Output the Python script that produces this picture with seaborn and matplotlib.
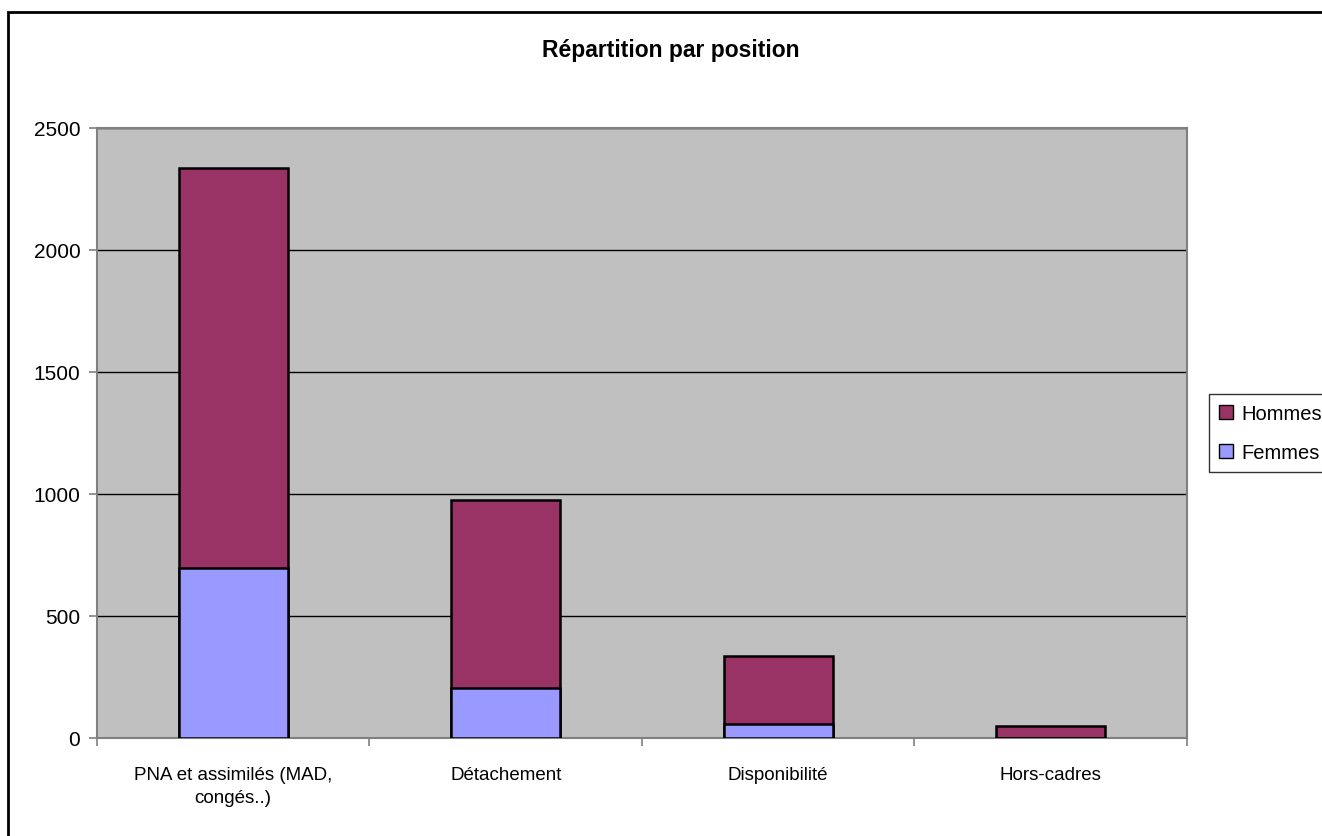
import seaborn as sns
import matplotlib.pyplot as plt
import pandas as pd
from matplotlib.patches import Patch, Rectangle

categories = ["PNA et assimilés (MAD,\ncongés..)", "Détachement", "Disponibilité", "Hors-cadres"]
femmes = [697, 205, 57, 0]
hommes = [1639, 770, 279, 49]
yticks = [0, 500, 1000, 1500, 2000, 2500]

col_hommes = "#993366"
col_femmes = "#9999FF"

sns.set_style("white")
plt.rcParams['font.family'] = ['Liberation Sans', 'DejaVu Sans']

df = pd.DataFrame({"position": categories, "Femmes": femmes, "Hommes": hommes})
df["total"] = df["Femmes"] + df["Hommes"]

fig = plt.figure(figsize=(13.22, 8.37), dpi=100)
ax = fig.add_axes([97/1322, 1-739/837, (1187-97)/1322, (739-129)/837])
ax.set_facecolor("#C0C0C0")

sns.barplot(data=df, x="position", y="total", color=col_hommes, width=0.4,
            edgecolor="black", linewidth=1.8, saturation=1, ax=ax, zorder=3)
sns.barplot(data=df, x="position", y="Femmes", color=col_femmes, width=0.4,
            edgecolor="black", linewidth=1.8, saturation=1, ax=ax, zorder=4)

ax.set_xlim(-0.5, 3.5)
ax.set_ylim(0, 2500)
ax.set_yticks(yticks)
ax.set_xlabel("")
ax.set_ylabel("")
ax.yaxis.grid(True, color="black", linewidth=1)
ax.set_axisbelow(True)
for s in ax.spines.values():
    s.set_color("#808080")
    s.set_linewidth(1.5)

ax.tick_params(axis="y", labelsize=15, labelcolor="black", direction="out", length=6,
               color="#808080", width=1.2, left=True, pad=6)
ax.tick_params(axis="x", which="major", labelsize=13.5, labelcolor="black", length=0, pad=20)
ax.set_xticks([-0.5, 0.5, 1.5, 2.5, 3.5], minor=True)
ax.tick_params(axis="x", which="minor", direction="out", length=6, color="#808080", width=1.2, bottom=True)
for lab in ax.get_xticklabels():
    lab.set_multialignment("center")
    lab.set_linespacing(1.5)
    lab.set_va("top")

fig.text(671/1322, 1-50/837, "Répartition par position", ha="center", va="center",
         fontsize=16.5, fontweight="bold", color="black")

handles = [Patch(facecolor=col_hommes, edgecolor="black", label="Hommes"),
           Patch(facecolor=col_femmes, edgecolor="black", label="Femmes")]
leg = fig.legend(handles=handles, loc="upper left", bbox_to_anchor=(1209/1322, 1-395/837),
                 fontsize=14.5, frameon=True, fancybox=False, handlelength=0.7, handleheight=0.7,
                 handletextpad=0.4, borderpad=0.5, labelspacing=1.0, borderaxespad=0)
leg.get_frame().set_edgecolor("black")
leg.get_frame().set_linewidth(1)
for t in leg.get_texts():
    t.set_color("black")

fig.patches.append(Rectangle((8/1322, -0.1), 1.1, 1-13/837+0.1, transform=fig.transFigure,
                             fill=False, edgecolor="black", linewidth=2))

fig.savefig("out.png", dpi=100)
